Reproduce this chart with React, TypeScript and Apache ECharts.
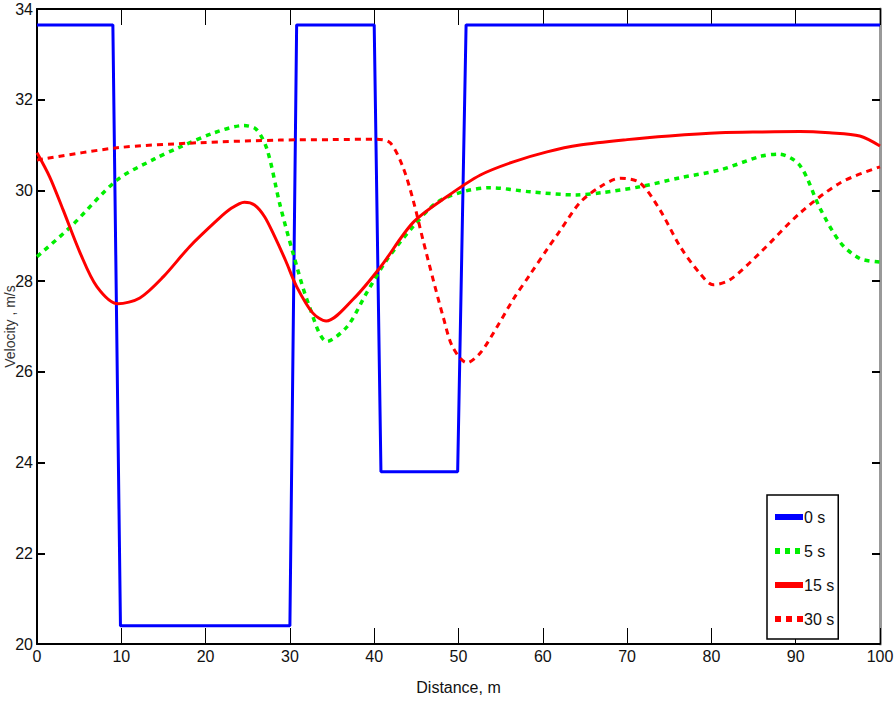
import React, { useEffect, useRef } from "react";
import * as echarts from "echarts";

const xTicks = [0, 10, 20, 30, 40, 50, 60, 70, 80, 90, 100];
const yTicks = [20, 22, 24, 26, 28, 30, 32, 34];

const seriesNames = ["0 s", "5 s", "15 s", "30 s"];

const dist0 = [0, 9, 9.9, 30, 30.8, 40, 40.8, 49.9, 50.9, 100];
const vel0 = [33.65, 33.65, 20.4, 20.4, 33.65, 33.65, 23.8, 23.8, 33.65, 33.65];

const dist5 = [0, 4, 9.5, 14, 17, 21, 24.5, 26, 27.3, 28.8, 30.4, 32.2, 34.4, 36.8, 39.1, 41.5, 44.6, 47.4, 50.5, 53.7, 58.5, 64, 67, 71.5, 76.3, 81, 85.8, 88, 90.5, 92.9, 95.3, 97.6, 100];
const vel5 = [28.54, 29.2, 30.23, 30.7, 30.96, 31.27, 31.43, 31.35, 30.9, 29.7, 28.6, 27.5, 26.67, 27.0, 27.74, 28.47, 29.2, 29.73, 29.97, 30.06, 29.97, 29.9, 29.95, 30.08, 30.28, 30.45, 30.75, 30.8, 30.55, 29.6, 28.85, 28.5, 28.42];

const dist15 = [0, 1.5, 3.1, 5.1, 7.1, 9.6, 12.2, 15, 18.1, 21.4, 23, 24.6, 25.8, 27, 28.2, 29.5, 30.8, 32.7, 34.3, 37.5, 40.7, 44.6, 48.6, 52.6, 56.5, 60.5, 64.4, 70, 75, 81, 86, 90.5, 94, 97.6, 100];
const vel15 = [30.83, 30.3, 29.57, 28.63, 27.88, 27.5, 27.63, 28.1, 28.76, 29.35, 29.6, 29.74, 29.68, 29.42, 28.98, 28.45, 27.88, 27.3, 27.12, 27.6, 28.3, 29.29, 29.86, 30.34, 30.63, 30.85, 31.0, 31.12, 31.2, 31.27, 31.29, 31.3, 31.27, 31.2, 30.98];

const dist30 = [0, 9.5, 19, 28.8, 35, 40.3, 41.9, 43.4, 44.6, 45.8, 47, 48.2, 49.3, 51, 52.6, 54.6, 56.5, 58.5, 60.5, 62, 64.4, 66.8, 69.2, 71.5, 73.9, 76.3, 78.6, 80.2, 82.2, 85.8, 90.5, 95.3, 100];
const vel30 = [30.67, 30.94, 31.05, 31.11, 31.12, 31.13, 31.05, 30.52, 29.8, 28.9, 28.03, 27.2, 26.55, 26.2, 26.42, 27.0, 27.6, 28.15, 28.7, 29.1, 29.73, 30.08, 30.27, 30.17, 29.57, 28.76, 28.18, 27.92, 28.03, 28.63, 29.5, 30.17, 30.52];

const pairs = (xs: number[], ys: number[]) => xs.map((x, i) => [x, ys[i]]);

const NARROW = "'Liberation Sans Narrow', 'Arial Narrow', 'Liberation Sans', Arial, sans-serif";

export default function App() {
  const ref = useRef<HTMLDivElement>(null);
  useEffect(() => {
    if (!ref.current) return;
    const chart = echarts.init(ref.current, null, { renderer: "svg" });
    const xLabel = { color: "#111", fontFamily: NARROW, fontSize: 16, margin: 4 };
    const yLabel = { color: "#111", fontFamily: NARROW, fontSize: 16, margin: 4 };
    chart.setOption({
      animation: false,
      backgroundColor: "#fff",
      grid: { left: 37, right: 14, top: 9, bottom: 62, containLabel: false, outerBoundsMode: "none" },
      legend: {
        orient: "vertical",
        left: 767,
        top: 495,
        padding: [14, 4, 12, 5],
        itemGap: 18,
        itemWidth: 28,
        itemHeight: 16,
        borderColor: "#000",
        borderWidth: 1.5,
        backgroundColor: "#fff",
        textStyle: { fontFamily: NARROW, fontSize: 16, color: "#111", padding: [0, 0, 0, -4] },
        lineStyle: { width: 6 },
        itemStyle: { opacity: 0 },
        data: seriesNames,
      },
      xAxis: [
        {
          type: "value",
          min: 0,
          max: 100,
          interval: 10,
          position: "bottom",
          name: "Distance, m",
          nameLocation: "middle",
          nameGap: 35,
          nameMoveOverlap: false,
          nameTextStyle: { fontFamily: NARROW, fontSize: 16, color: "#111" },
          axisLine: { onZero: false, lineStyle: { color: "#000", width: 2 } },
          axisTick: { inside: true, length: 16, lineStyle: { color: "#000", width: 1 } },
          axisLabel: xLabel,
          splitLine: { show: false },
        },
        {
          type: "value",
          min: 0,
          max: 100,
          interval: 10,
          position: "top",
          axisLine: { show: true, onZero: false, lineStyle: { color: "#000", width: 2 } },
          axisTick: { inside: true, length: 16, lineStyle: { color: "#000", width: 1 } },
          axisLabel: { show: false },
          splitLine: { show: false },
        },
      ],
      yAxis: [
        {
          type: "value",
          min: 20,
          max: 34,
          interval: 2,
          position: "left",
          name: "Velocity , m/s",
          nameLocation: "middle",
          nameGap: 20,
          nameMoveOverlap: false,
          nameTextStyle: { fontFamily: "'Liberation Sans', Arial, sans-serif", fontSize: 14, color: "#333" },
          axisLine: { show: true, onZero: false, lineStyle: { color: "#000", width: 2 } },
          axisTick: { inside: true, length: 8, lineStyle: { color: "#000", width: 2 } },
          axisLabel: yLabel,
          splitLine: { show: false },
        },
        {
          type: "value",
          min: 20,
          max: 34,
          interval: 2,
          position: "right",
          axisLine: { show: true, onZero: false, lineStyle: { color: "#999", width: 3 } },
          axisTick: { inside: true, length: 8, lineStyle: { color: "#000", width: 2 } },
          axisLabel: { show: false },
          splitLine: { show: false },
        },
      ],
      series: [
        {
          name: seriesNames[0],
          type: "line",
          xAxisIndex: 0,
          yAxisIndex: 0,
          symbol: "none",
          data: pairs(dist0, vel0),
          lineStyle: { color: "#0000ff", width: 3 },
          itemStyle: { color: "#0000ff" },
          z: 2,
        },
        {
          name: seriesNames[1],
          type: "line",
          xAxisIndex: 0,
          yAxisIndex: 0,
          symbol: "none",
          smooth: 0.3,
          data: pairs(dist5, vel5),
          lineStyle: { color: "#00ee00", width: 3.5, type: [5, 5] },
          itemStyle: { color: "#00ee00" },
          z: 3,
        },
        {
          name: seriesNames[2],
          type: "line",
          xAxisIndex: 0,
          yAxisIndex: 0,
          symbol: "none",
          smooth: 0.3,
          data: pairs(dist15, vel15),
          lineStyle: { color: "#ff0000", width: 3 },
          itemStyle: { color: "#ff0000" },
          z: 4,
        },
        {
          name: seriesNames[3],
          type: "line",
          xAxisIndex: 0,
          yAxisIndex: 0,
          symbol: "none",
          smooth: 0.3,
          data: pairs(dist30, vel30),
          lineStyle: { color: "#ff0000", width: 3, type: [6, 5] },
          itemStyle: { color: "#ff0000" },
          z: 5,
        },
      ],
    });
    return () => chart.dispose();
  }, []);
  return <div ref={ref} style={{ width: 894, height: 706, position: "absolute", left: 0, top: 0 }} />;
}
